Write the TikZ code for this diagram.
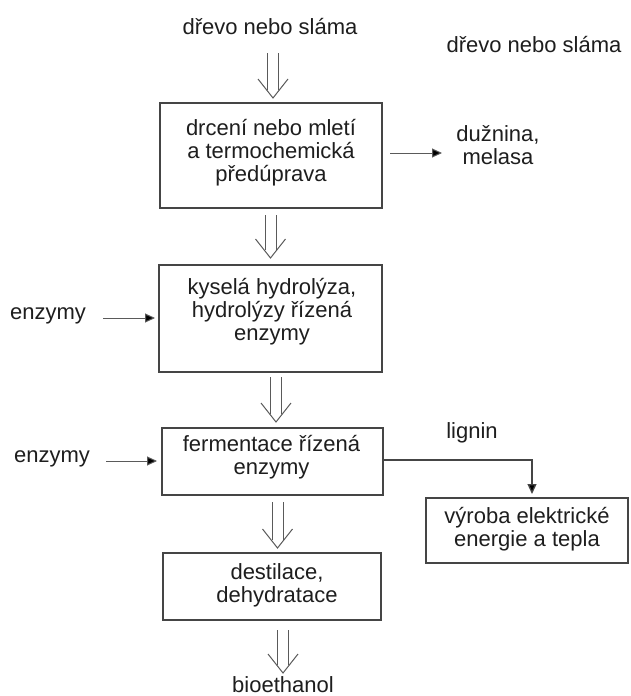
\documentclass[tikz,border=0pt]{standalone}
\usepackage{fontspec}
\setmainfont{Liberation Sans}
\usetikzlibrary{arrows.meta,calc}
\definecolor{txtc}{HTML}{1E1E1E}
\definecolor{boxc}{HTML}{454545}
\definecolor{linec}{HTML}{5A5A5A}
\newcommand\dblarr[2]{%
  \draw[dblline] ($(#1)+(-5.5,0)$) -- ($(#2)+(-5.5,-8)$);
  \draw[dblline] ($(#1)+(5.5,0)$) -- ($(#2)+(5.5,-8)$);
  \draw[dblline] ($(#2)+(-15,-19)$) -- (#2) -- ($(#2)+(15,-19)$);}
\begin{document}
\begin{tikzpicture}[x=1pt,y=-1pt,
  txt/.style={text=txtc,font=\fontsize{22}{23}\selectfont,align=center,inner sep=0pt},
  boxnode/.style={draw=boxc,line width=1.3pt,inner sep=0pt},
  dblline/.style={draw=linec,line width=1pt},
  thinarr/.style={draw=linec,line width=1pt,-{Triangle[length=10pt,width=9pt,fill=black]}},
  lignline/.style={draw=boxc,line width=1.3pt,-{Triangle[length=10pt,width=9pt,fill=black]}}]
\useasboundingbox[fill=white] (0,0) rectangle (630,696);

% boxes
\node[boxnode,minimum width=222pt,minimum height=105pt] (b1) at (271,155.5) {};
\node[boxnode,minimum width=223pt,minimum height=107pt] (b2) at (270.5,318.5) {};
\node[boxnode,minimum width=221pt,minimum height=67pt] (b3) at (272.5,461.5) {};
\node[boxnode,minimum width=202pt,minimum height=65pt] (b4) at (527,530.5) {};
\node[boxnode,minimum width=218pt,minimum height=67pt] (b5) at (272,586.5) {};

% box texts
\node[txt] (t1) at (271,153) {drcení nebo mletí\\a termochemická\\předúprava};
\node[txt] (t2) at (272,312) {kyselá hydrolýza,\\hydrolýzy řízená\\enzymy};
\node[txt] (t3) at (271.5,457.5) {fermentace řízená\\enzymy};
\node[txt] (t4) at (527,529.5) {výroba elektrické\\energie a tepla};
\node[txt] (t5) at (277,585.5) {destilace,\\dehydratace};

% free texts
\node[txt] (top) at (270,27) {dřevo nebo sláma};
\node[txt] (topr) at (534,45) {dřevo nebo sláma};
\node[txt] (duz) at (498,145) {dužnina,\\melasa};
\node[txt] (enz1) at (48,316) {enzymy};
\node[txt] (enz2) at (52,459) {enzymy};
\node[txt] (lig) at (472,433) {lignin};
\node[txt] (bio) at (283,685) {bioethanol};

% double arrows
\coordinate (d1t) at (273,53);  \coordinate (d1h) at (273,98);
\coordinate (d2t) at (270.5,215); \coordinate (d2h) at (270.5,258);
\coordinate (d3t) at (276,377); \coordinate (d3h) at (276,422);
\coordinate (d4t) at (277.5,502); \coordinate (d4h) at (277.5,548);
\coordinate (d5t) at (283,630); \coordinate (d5h) at (283,673);
\dblarr{d1t}{d1h}
\dblarr{d2t}{d2h}
\dblarr{d3t}{d3h}
\dblarr{d4t}{d4h}
\dblarr{d5t}{d5h}

% thin arrows
\coordinate (a1s) at (390,153); \coordinate (a1e) at (442,153);
\draw[thinarr] (a1s) -- (a1e);
\coordinate (e1s) at (103,318); \coordinate (e1e) at (155,318);
\draw[thinarr] (e1s) -- (e1e);
\coordinate (e2s) at (106,461); \coordinate (e2e) at (157,461);
\draw[thinarr] (e2s) -- (e2e);

% lignin connector
\coordinate (lgs) at (b3.east |- 0,460);
\coordinate (lgc) at (532,460);
\coordinate (lge) at (532,494);
\draw[lignline] (lgs) -- (lgc) -- (lge);
\end{tikzpicture}
\end{document}
